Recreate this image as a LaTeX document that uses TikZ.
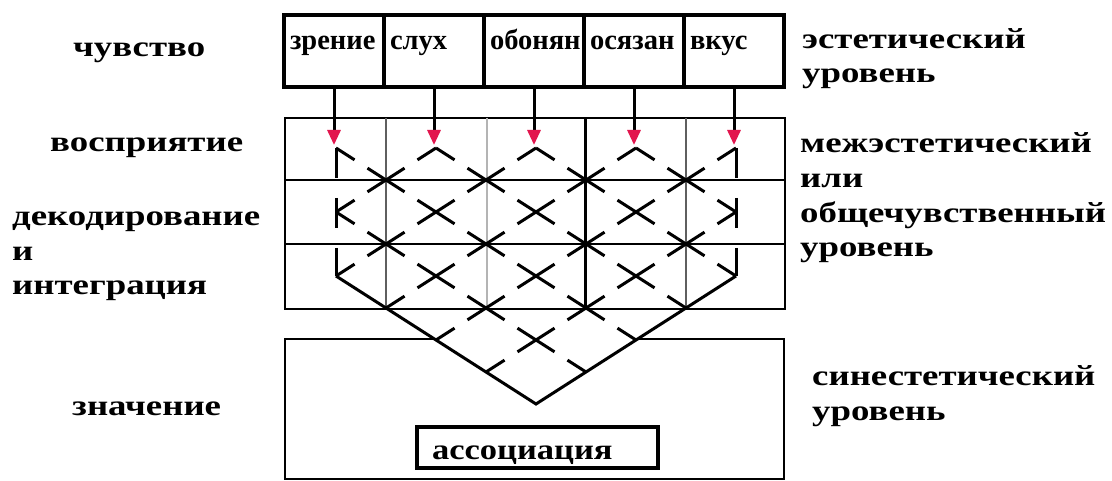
\documentclass[tikz,border=0pt]{standalone}
\usepackage{fontspec}
\setmainfont{Liberation Serif}
\newfontfamily\labelfont{Liberation Serif}[FakeStretch=1.27]
\newfontfamily\assocfont{Liberation Serif}[FakeStretch=1.19]
\usetikzlibrary{arrows.meta}

\definecolor{tipred}{RGB}{226,22,78}
\definecolor{darkline}{RGB}{95,95,95}
\definecolor{paleline}{RGB}{180,180,180}

\begin{document}
\begin{tikzpicture}[x=1pt,y=-1pt,
  sidelabel/.style={font=\labelfont\bfseries\fontsize{29}{34.7}\selectfont,
    inner sep=0pt, anchor=base west, align=left},
  sensebox/.style={draw, line width=3.5pt, minimum width=100pt, minimum height=72pt,
    text width=88pt, inner xsep=6pt, inner ysep=0pt, align=left,
    text height=18pt, text depth=21pt, font=\bfseries\fontsize{28.5}{30}\selectfont},
  sensearrow/.style={line width=3pt, -{Triangle[color=tipred, width=13pt, length=15pt]}},
  gridline/.style={line width=2.5pt},
  lattice/.style={line width=3pt, dash pattern=on 44pt off 15.36pt, dash phase=22pt},
  latticeside/.style={line width=3pt, dash pattern=on 30pt off 20pt},
  vline/.style={line width=3pt, line join=miter},
  assocbox/.style={draw, line width=3.5pt, minimum width=241pt, minimum height=41pt,
    text width=211pt, inner xsep=15pt, inner ysep=0pt, align=left,
    text height=25pt, text depth=2pt, font=\assocfont\bfseries\fontsize{29}{30}\selectfont}]

  \useasboundingbox (0,0) rectangle (1112,481);
  \fill[white] (0,0) rectangle (1112,481);

  % senses row
  \node[sensebox] (zr) at (334,51) {зрение};
  \node[sensebox] (sl) at (434,51) {слух};
  \node[sensebox] (ob) at (534,51) {обонян};
  \node[sensebox] (os) at (634,51) {осязан};
  \node[sensebox] (vk) at (734,51) {вкус};

  \coordinate (tips) at (0,145);
  \foreach \s in {zr,sl,ob,os,vk}
    \draw[sensearrow] (\s.south) -- (\s.south |- tips);

  % meaning box (under the lattice)
  \draw[gridline] (285,339) rectangle (784,479);
  \node[assocbox] (as) at (537.5,447.5) {ассоциация};

  % perception / decoding grid
  \begin{scope}[shift={(336,148)}, x=50pt, y=-32pt]
    \fill[white] (0,4) -- (4,8) -- (8,4) -- cycle;
  \end{scope}
  \draw[gridline] (285,118) rectangle (785,309);
  \draw[gridline] (285,180) -- (785,180);
  \draw[gridline] (285,244) -- (785,244);
  \draw[gridline,darkline] (386,118) -- (386,309);
  \draw[gridline,paleline] (487,118) -- (487,309);
  \draw[line width=3pt] (585,118) -- (585,309);
  \draw[gridline,darkline] (686,118) -- (686,309);

  % diamond lattice, (i,j) = (336+50i, 148+32j)
  \begin{scope}[shift={(336,148)}, x=50pt, y=-32pt]
    % down-right lines
    \draw[lattice] (0,0) -- (6,6);
    \draw[lattice] (2,0) -- (7,5);
    \draw[lattice] (4,0) -- (8,4);
    \draw[lattice] (6,0) -- (8,2);
    \draw[lattice] (0,2) -- (5,7);
    % down-left lines
    \draw[lattice] (2,0) -- (0,2);
    \draw[lattice] (4,0) -- (0,4);
    \draw[lattice] (6,0) -- (1,5);
    \draw[lattice] (8,0) -- (2,6);
    \draw[lattice] (8,2) -- (3,7);
    % side walls
    \draw[latticeside] (0,0) -- (0,4);
    \draw[latticeside] (8,0) -- (8,4);
    % closing V
    \draw[vline] (0,4) -- (4,8) -- (8,4);
  \end{scope}

  % left labels (multi-line ones sit on their last line)
  \node[sidelabel] (chuv) at (73,57) {чувство};
  \node[sidelabel] (vospr) at (50,152) {восприятие};
  \node[sidelabel] (dekod) at (12,295) {декодирование\\и\\интеграция};
  \node[sidelabel] (znach) at (72,415) {значение};

  % right labels
  \node[sidelabel] (estet) at (802,83) {эстетический\\уровень};
  \node[sidelabel] (mezh) at (800,257) {межэстетический\\или\\общечувственный\\уровень};
  \node[sidelabel] (sinest) at (812,420) {синестетический\\уровень};
\end{tikzpicture}
\end{document}
